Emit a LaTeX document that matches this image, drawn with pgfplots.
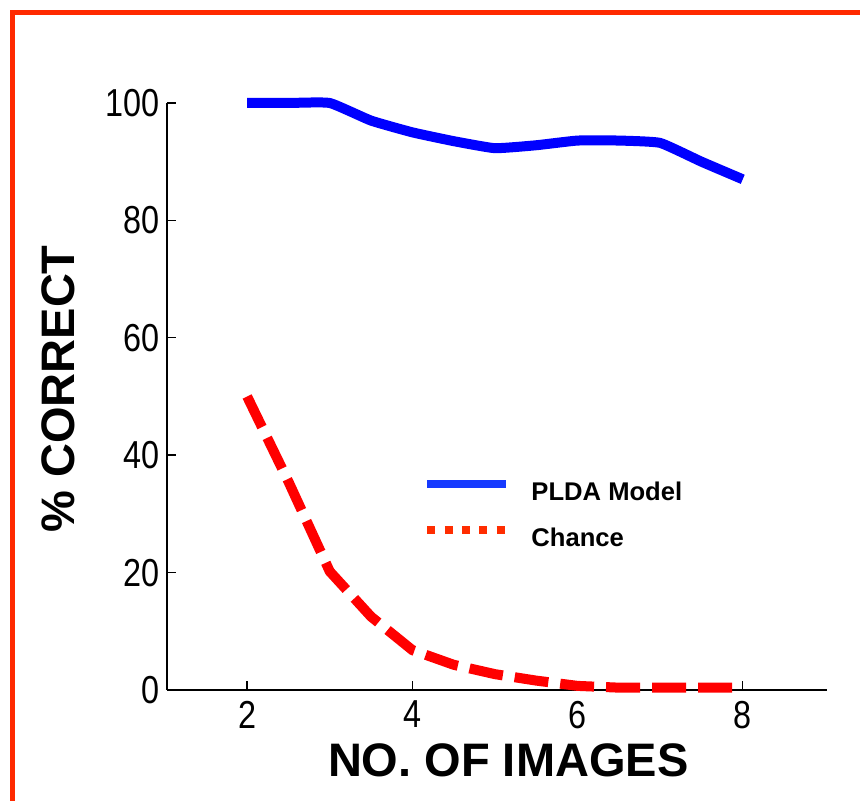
\documentclass[border=0pt]{standalone}
\usepackage{fontspec}
\setmainfont{Liberation Sans}
\newfontfamily\narrowfont[FakeStretch=0.83]{Liberation Sans}
\usepackage{pgfplots}
\pgfplotsset{compat=1.18}
\definecolor{frame}{RGB}{255,42,0}
\definecolor{pblue}{RGB}{0,0,255}
\definecolor{lblue}{RGB}{22,58,255}
\definecolor{pred}{RGB}{255,0,0}
\definecolor{lred}{RGB}{255,45,0}
\begin{document}
\begin{tikzpicture}[x=1pt,y=1pt]
\useasboundingbox (0,0) rectangle (430,400.5);
\fill[white] (0,0) rectangle (430,400.5);
\draw[frame, line width=2.5pt] (6,-2) -- (6,394) -- (432,394);
\begin{axis}[
  at={(83.5pt,55.5pt)}, anchor=south west,
  scale only axis, width=330pt, height=293.5pt,
  xmin=1.03, xmax=9.02, ymin=0, ymax=100,
  axis x line=bottom, axis y line=left,
  axis line style={-, line width=1pt, black},
  xtick={2,4,6,8}, ytick={0,20,40,60,80,100},
  tick align=inside, major tick length=4.5pt,
  tick style={line width=0.7pt, black},
  ticklabel style={font=\narrowfont\fontsize{19.5}{19.5}\selectfont},
  /pgf/number format/assume math mode=true,
  xticklabel style={yshift=-2pt},
  clip=false,
  xlabel={NO. OF IMAGES},
  xlabel style={at={(axis description cs:0.517,-0.1482)}, anchor=base,
    font=\bfseries\fontsize{23.5}{23.5}\selectfont},
  ylabel={\% CORRECT},
  ylabel style={at={(axis description cs:-0.1394,0.513)}, anchor=base, rotate=0,
    font=\bfseries\fontsize{23.5}{23.5}\selectfont},
  legend style={at={(axis description cs:0.388,0.3577)}, anchor=north west,
    draw=none, fill=none, inner sep=0pt, row sep=11pt, column sep=0pt,
    nodes={inner sep=0pt},
    font=\bfseries\fontsize{12.8}{12.8}\selectfont},
  legend cell align=left,
]
\addplot[pblue, line width=5pt, smooth, tension=0.25, forget plot] coordinates {
(2,100) (2.5,100) (3,100) (3.5,97) (4,95) (4.5,93.5) (5,92.3) (5.5,92.8)
(6,93.6) (6.5,93.6) (7,93.2) (7.5,90) (8,87)};
\addplot[pred, line width=5pt, dash pattern=on 17pt off 6pt, forget plot] coordinates {
(2,50) (2.5,35.5) (3,20.2) (3.5,12.5) (4,6.8) (4.5,4.3) (5,2.7) (5.5,1.6)
(6,0.7) (6.5,0.4) (7,0.4) (7.5,0.4) (8,0.4)};
\addlegendimage{legend image code/.code={
  \draw[lblue, line width=4pt] (0pt,4.3pt) -- (39.5pt,4.3pt);
  \path[draw=none, fill=none] (0pt,0pt) -- (52pt,0pt);}}
\addlegendentry{PLDA Model}
\addlegendimage{legend image code/.code={
  \draw[lred, line width=4pt, dash pattern=on 4pt off 4.65pt] (0pt,4.3pt) -- (39.5pt,4.3pt);
  \path[draw=none, fill=none] (0pt,0pt) -- (52pt,0pt);}}
\addlegendentry{Chance}
\end{axis}
\end{tikzpicture}
\end{document}
